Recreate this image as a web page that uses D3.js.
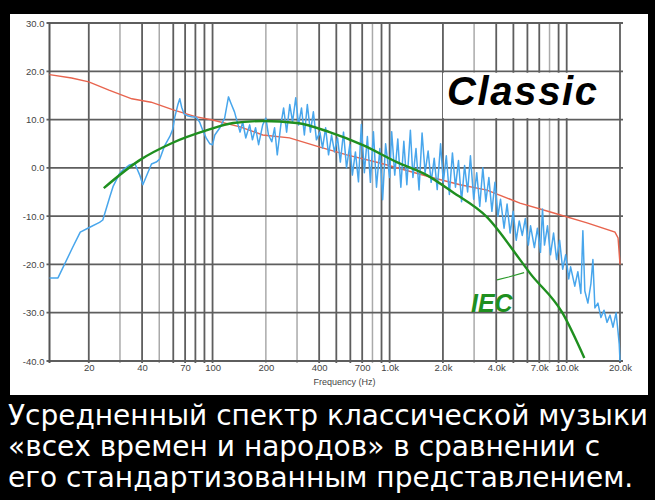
<!DOCTYPE html>
<html><head><meta charset="utf-8">
<script src="https://cdn.jsdelivr.net/npm/d3@7"></script>
<style>html,body{margin:0;padding:0;background:#000;}svg{display:block}</style>
</head><body>
<svg id="c" width="655" height="500"></svg>
<script>
// ---- data ----
const yTicks = [30, 20, 10, 0, -10, -20, -30, -40];
const yTickLabels = ["30.0", "20.0", "10.0", "0.0", "-10.0", "-20.0", "-30.0", "-40.0"];
const xTicks = [20, 40, 70, 100, 200, 400, 700, 1000, 2000, 4000, 7000, 10000, 20000];
const xTickLabels = ["20", "40", "70", "100", "200", "400", "700", "1.0k", "2.0k", "4.0k", "7.0k", "10.0k", "20.0k"];
const gridDark = [20, 40, 60, 70, 80, 90, 100, 400, 500, 600, 700, 900, 1000, 2000, 4000, 5000, 6000, 7000, 9000, 10000, 20000];
const gridLight = [30, 50, 200, 300, 800, 3000, 8000];

const blueFreq = [12, 13.4, 16.2, 17.9, 20, 23, 24, 26.3, 27.4, 29.9, 31.5, 34, 36.4, 38.8, 40.4, 42, 45.2, 48.1, 50.3, 53.5,
  57.4, 59.6, 61.2, 63.6, 65.3, 67, 69, 72, 76, 80.7, 84.5, 88, 92, 96.4, 100, 103, 110, 117, 123, 127,
  133, 143, 148, 154, 162, 168, 175, 182, 192, 200, 207, 216, 224, 232, 243, 252, 262, 273, 283, 295,
  306, 318, 330, 343, 357, 371, 386, 404, 418, 435, 452, 470, 488, 508, 527, 549, 571, 596, 616, 641,
  667, 692, 720, 749, 779, 810, 843, 881, 913, 949, 1000, 1027, 1069, 1112, 1157, 1203, 1251, 1310, 1354, 1409,
  1466, 1525, 1586, 1650, 1716, 1786, 1857, 1940, 2010, 2090, 2175, 2263, 2354, 2449, 2548, 2650, 2757, 2860, 2984, 3104,
  3229, 3359, 3494, 3635, 3781, 3934, 4092, 4230, 4428, 4606, 4792, 4985, 5186, 5395, 5612, 5838, 6073, 6250, 6570, 6835,
  7110, 7300, 7490, 7790, 8100, 8430, 8770, 9120, 9490, 9870, 10270, 10520, 11110, 11560, 12020, 12340, 12660, 13170, 13700, 14060,
  14430, 15010, 15610, 16240, 16890, 17570, 18270, 19010, 19500, 19800, 20000];
const blueDb = [-22.8, -22.8, -16.5, -13.3, -12.4, -11.3, -10.8, -6, -3.9, -1.1, -0.3, 0.6, 0.9, -1.5, -3.5, -2, 0.8, 1.2, 1.8, 4.5,
  6.5, 8.0, 10.5, 13, 14.3, 12.5, 11.2, 10.8, 10.6, 10.5, 9.5, 7.8, 6.2, 5.0, 4.8, 6.8, 8.3, 10.3, 14.7, 13.4,
  11.6, 7.4, 9.5, 6.2, 8.9, 5.8, 8.3, 4.8, 8.9, 10.3, 6.8, 5.4, 8.3, 2.7, 8.9, 12.4, 7.4, 13.1, 9.5, 14.5,
  8.9, 12.4, 6.8, 13.1, 7.4, 11.6, 5.8, 7.4, 4.1, 8.3, 2.7, 6.8, 3.3, 6.2, 1.2, 7.4, 0, 4.8, -1.5, 3.3,
  -2.9, 9.0, -1.0, 6.5, -3.0, 7.5, -4.0, 4.0, -6.6, 5.0, -2.0, 7.5, -1.5, 6.0, -4.0, 5.5, -3.5, 7.8, -2.0, 4.0,
  -4.6, 7.2, -1.0, 3.5, -3.0, 2.0, -4.5, 5.0, -3.0, 2.5, -5.5, 3.1, -4.0, 1.5, -7.0, 0.5, -5.0, 2.5, -6.5, -1.0,
  -8.0, 0.0, -7.0, -2.0, -9.0, -3.0, -10.0, -6.5, -12.5, -7.5, -13.5, -9.0, -15.0, -11.0, -14.0, -10.5, -16.0, -12.0, -16.5, -12.5,
  -17.5, -8.5, -16.0, -12.0, -18.0, -13.5, -19.0, -15.0, -21.0, -18.0, -23.0, -20.5, -24.5, -21.5, -26.0, -13.0, -25.5, -28.0, -24.0, -19.0,
  -29.0, -28.0, -31.0, -29.5, -32.0, -30.5, -33.0, -30.0, -34.0, -36.5, -40.0];

const redFreq = [12, 16, 20, 26, 35, 45, 60, 80, 100, 143, 192, 272, 404, 573, 881, 1690, 2500, 3548, 5446, 8364, 13020, 18730, 19500, 20000];
const redDb = [19.3, 18.6, 17.8, 16.1, 14.3, 13.6, 12.0, 10.6, 9.9, 8.5, 6.8, 6.2, 4.3, 2.7, 1.0, -1.9, -3.5, -4.6, -7.3, -9.3, -11.4, -13.3, -14.5, -20];

const iecFreq = [24.3, 38.8, 59.6, 93.1, 130.8, 192.5, 299, 458, 707, 1098, 1621, 2265, 3548, 5446, 6200, 9445, 12580];
const iecDb = [-4.2, 1.6, 5.2, 7.8, 9.3, 9.7, 9.3, 7.4, 4.7, 1.2, -1.5, -5, -10.2, -19, -21.8, -30, -39.4];

const captionLines = ["Усредненный спектр классической музыки", "«всех времен и народов» в сравнении с", "его стандартизованным представлением."];

// ---- drawing ----
const svg = d3.select("#c");
svg.append("rect").attr("x", 0).attr("y", 0).attr("width", 655).attr("height", 500).attr("fill", "#000");
svg.append("rect").attr("x", 10).attr("y", 14).attr("width", 638).attr("height", 381).attr("fill", "#fff");

const x = d3.scaleLog().domain([12, 20000]).range([49.5, 620]);
const y = d3.scaleLinear().domain([-40, 30]).range([361, 23]);

const g = svg.append("g");
// vertical grid
g.selectAll(".vl").data(gridLight).join("line")
  .attr("x1", d => x(d)).attr("x2", d => x(d)).attr("y1", y(30)).attr("y2", y(-40) + 2)
  .attr("stroke", "#aaaaaa").attr("stroke-width", 1.5);
g.selectAll(".vd").data(gridDark).join("line")
  .attr("x1", d => x(d)).attr("x2", d => x(d)).attr("y1", y(30)).attr("y2", y(-40) + 2)
  .attr("stroke", "#5e5e5e").attr("stroke-width", 1.8);
// horizontal grid
g.selectAll(".hl").data(yTicks).join("line")
  .attr("x1", x(12) - 3).attr("x2", x(20000) + 3).attr("y1", d => y(d)).attr("y2", d => y(d))
  .attr("stroke", "#5e5e5e").attr("stroke-width", 1.8);
// left axis line
g.append("line").attr("x1", x(12)).attr("x2", x(12)).attr("y1", y(30)).attr("y2", y(-40) + 2)
  .attr("stroke", "#555").attr("stroke-width", 2);

// white box behind Classic
svg.append("rect").attr("x", x(2000)).attr("y", y(20) + 1.5).attr("width", x(19200) - x(2000)).attr("height", y(10) - y(20) - 3).attr("fill", "#fff");

// axes labels via d3 axes
const yAxis = d3.axisLeft(y).tickValues(yTicks).tickFormat((d, i) => yTickLabels[i]).tickSize(0).tickPadding(5);
const ya = svg.append("g").attr("transform", `translate(${x(12)},0)`).call(yAxis);
ya.select(".domain").remove();
ya.selectAll("text").attr("font-family", "Liberation Sans, Arial, sans-serif").attr("font-size", 9.5).attr("fill", "#444");

const xAxis = d3.axisBottom(x).tickValues(xTicks).tickFormat((d, i) => xTickLabels[i]).tickSize(0).tickPadding(3);
const xa = svg.append("g").attr("transform", `translate(0,${y(-40)})`).call(xAxis);
xa.select(".domain").remove();
xa.selectAll("text").attr("font-family", "Liberation Sans, Arial, sans-serif").attr("font-size", 9.5).attr("fill", "#444");

svg.append("text").attr("x", x(800) - 28).attr("y", 385).attr("text-anchor", "middle")
  .attr("font-family", "Liberation Sans, Arial, sans-serif").attr("font-size", 9).attr("fill", "#444")
  .text("Frequency (Hz)");

// lines
const line = d3.line().x(d => x(d[0])).y(d => y(d[1]));
const redPts = redFreq.map((f, i) => [f, redDb[i]]);
const bluePts = blueFreq.map((f, i) => [f, blueDb[i]]);
const iecPts = iecFreq.map((f, i) => [f, iecDb[i]]);

svg.append("path").datum(redPts).attr("d", line).attr("fill", "none")
  .attr("stroke", "#e8644e").attr("stroke-width", 1.4);
svg.append("path").datum(bluePts).attr("d", line).attr("fill", "none")
  .attr("stroke", "#48a6ec").attr("stroke-width", 1.5).attr("stroke-linejoin", "round");
svg.append("path").datum(iecPts).attr("d", d3.line().x(d => x(d[0])).y(d => y(d[1])).curve(d3.curveMonotoneX))
  .attr("fill", "none").attr("stroke", "#1f8f1f").attr("stroke-width", 2.4);

// IEC label + leader
svg.append("path").datum([[4040, -23.2], [4700, -22.6], [5750, -21.7]]).attr("d", line)
  .attr("fill", "none").attr("stroke", "#2a9a2a").attr("stroke-width", 1.2);
svg.append("text").attr("x", x(2880)).attr("y", y(-29.8))
  .attr("font-family", "Liberation Sans, Arial, sans-serif").attr("font-weight", "bold").attr("font-style", "italic")
  .attr("font-size", 25).attr("fill", "#1f8f1f").text("IEC");

// Classic label
svg.append("text").attr("x", x(2110)).attr("y", y(13.0))
  .attr("font-family", "Liberation Sans, Arial, sans-serif").attr("font-weight", "bold").attr("font-style", "italic")
  .attr("font-size", 40).attr("fill", "#000").attr("textLength", 150).attr("lengthAdjust", "spacing").text("Classic");

// caption
svg.selectAll(".cap").data(captionLines).join("text")
  .attr("x", 8).attr("y", (d, i) => 425 + i * 31)
  .attr("font-family", "DejaVu Sans, Verdana, sans-serif").attr("font-size", 28).attr("fill", "#fff")
  .text(d => d);
</script>
</body></html>
